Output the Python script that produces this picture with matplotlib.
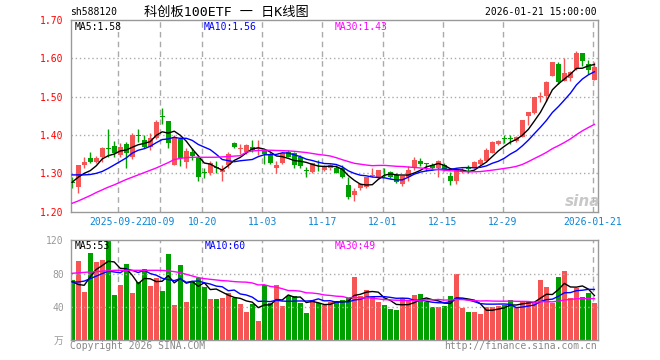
import matplotlib
matplotlib.use('Agg')
import matplotlib.pyplot as plt
import numpy as np
import pandas as pd

plt.rcParams['font.family'] = ['DejaVu Sans Mono', 'Noto Sans CJK SC']

# ---------------- data ----------------
tick_labels = ['2025-09-22', '10-09', '10-20', '11-03', '11-17', '12-01', '12-15', '12-29', '2026-01-21']
tick_index = [8, 15, 22, 32, 42, 52, 62, 72, 87]

opens = [1.277, 1.265, 1.323, 1.341, 1.330, 1.343, 1.366, 1.372, 1.348, 1.377,
         1.343, 1.399, 1.387, 1.370, 1.391, 1.449, 1.437, 1.322, 1.389, 1.330,
         1.357, 1.339, 1.303, 1.300, 1.316, 1.304, 1.322, 1.380, 1.363, 1.355,
         1.370, 1.363, 1.358, 1.350, 1.315, 1.328, 1.355, 1.352, 1.343, 1.308,
         1.304, 1.322, 1.310, 1.313, 1.315, 1.315, 1.270, 1.244, 1.262, 1.265,
         1.292, 1.287, 1.309, 1.304, 1.296, 1.272, 1.291, 1.313, 1.333, 1.325,
         1.322, 1.315, 1.322, 1.293, 1.281, 1.304, 1.314, 1.316, 1.324, 1.333,
         1.354, 1.377, 1.391, 1.391, 1.385, 1.396, 1.450, 1.458, 1.499, 1.503,
         1.554, 1.585, 1.541, 1.548, 1.571, 1.613, 1.584, 1.544]
highs = [1.290, 1.322, 1.343, 1.355, 1.345, 1.368, 1.415, 1.384, 1.378, 1.383,
         1.404, 1.417, 1.400, 1.405, 1.440, 1.471, 1.437, 1.400, 1.395, 1.365,
         1.366, 1.347, 1.315, 1.331, 1.331, 1.322, 1.355, 1.383, 1.376, 1.376,
         1.387, 1.387, 1.360, 1.357, 1.331, 1.357, 1.360, 1.355, 1.347, 1.317,
         1.328, 1.335, 1.322, 1.325, 1.322, 1.322, 1.291, 1.262, 1.274, 1.291,
         1.313, 1.310, 1.313, 1.306, 1.300, 1.293, 1.319, 1.342, 1.339, 1.327,
         1.326, 1.335, 1.328, 1.304, 1.310, 1.313, 1.322, 1.333, 1.339, 1.365,
         1.385, 1.387, 1.400, 1.400, 1.398, 1.439, 1.461, 1.498, 1.513, 1.541,
         1.591, 1.591, 1.602, 1.568, 1.618, 1.613, 1.596, 1.590]
lows = [1.262, 1.250, 1.315, 1.327, 1.327, 1.330, 1.342, 1.343, 1.343, 1.315,
        1.338, 1.382, 1.365, 1.360, 1.389, 1.430, 1.365, 1.322, 1.319, 1.315,
        1.335, 1.280, 1.288, 1.296, 1.302, 1.281, 1.315, 1.366, 1.350, 1.350,
        1.357, 1.348, 1.325, 1.324, 1.300, 1.324, 1.343, 1.313, 1.315, 1.291,
        1.302, 1.307, 1.306, 1.310, 1.300, 1.287, 1.232, 1.229, 1.257, 1.263,
        1.290, 1.285, 1.290, 1.287, 1.274, 1.267, 1.279, 1.309, 1.319, 1.305,
        1.310, 1.290, 1.305, 1.270, 1.272, 1.300, 1.302, 1.313, 1.322, 1.330,
        1.352, 1.375, 1.378, 1.377, 1.383, 1.395, 1.425, 1.456, 1.487, 1.490,
        1.553, 1.533, 1.540, 1.540, 1.570, 1.580, 1.560, 1.544]
closes = [1.275, 1.322, 1.330, 1.330, 1.341, 1.365, 1.364, 1.352, 1.370, 1.354,
          1.400, 1.397, 1.370, 1.393, 1.435, 1.447, 1.380, 1.395, 1.340, 1.358,
          1.345, 1.291, 1.301, 1.326, 1.315, 1.310, 1.350, 1.368, 1.365, 1.374,
          1.361, 1.366, 1.350, 1.328, 1.322, 1.352, 1.343, 1.322, 1.319, 1.307,
          1.326, 1.321, 1.317, 1.322, 1.302, 1.291, 1.239, 1.255, 1.272, 1.291,
          1.295, 1.309, 1.308, 1.290, 1.278, 1.293, 1.309, 1.335, 1.324, 1.324,
          1.313, 1.333, 1.310, 1.281, 1.310, 1.310, 1.312, 1.329, 1.335, 1.361,
          1.383, 1.385, 1.389, 1.389, 1.396, 1.439, 1.461, 1.498, 1.501, 1.539,
          1.591, 1.538, 1.561, 1.565, 1.613, 1.594, 1.570, 1.578]
volumes = [72.4, 95.2, 58.4, 104.8, 94.0, 96.0, 121.0, 54.4, 66.4, 91.6,
           57.0, 70.0, 86.0, 64.6, 74.5, 59.3, 103.8, 42.5, 90.8, 46.4,
           69.6, 74.4, 64.4, 49.6, 49.6, 51.2, 56.4, 50.4, 44.0, 34.4,
           43.6, 23.6, 66.4, 44.4, 66.4, 41.2, 53.6, 53.2, 45.2, 33.2,
           48.4, 45.2, 42.4, 46.4, 47.6, 48.4, 50.4, 76.4, 53.2, 60.4,
           52.4, 46.4, 42.4, 37.6, 36.4, 50.4, 47.2, 54.4, 55.6, 46.4,
           40.0, 40.0, 41.2, 53.2, 79.6, 39.2, 34.4, 34.4, 31.6, 40.4,
           39.6, 41.2, 42.0, 48.5, 40.5, 46.5, 46.5, 46.5, 72.5, 64.2,
           45.0, 76.2, 83.4, 51.2, 63.2, 52.2, 57.0, 45.0]

# moving-average values for days whose window starts before the first candle
ma5_head = [1.277, 1.290, 1.300, 1.307]
ma10_head = [1.296, 1.296, 1.296, 1.297, 1.300, 1.305, 1.313, 1.322, 1.331]
ma30_head = [1.222, 1.228, 1.235, 1.242, 1.250, 1.257, 1.264, 1.270, 1.277, 1.284,
             1.290, 1.296, 1.302, 1.308, 1.314, 1.321, 1.328, 1.336, 1.339, 1.341,
             1.342, 1.342, 1.342, 1.342, 1.342, 1.343, 1.344, 1.345, 1.346]
vma5_head = [70.5, 67.0, 66.0, 76.0]
vma10_head = [70.0, 70.0, 71.0, 74.0, 77.0, 80.0, 83.0, 82.0, 81.0]
vma30_head = [80.4, 81.0, 81.5, 82.0, 82.5, 83.0, 83.5, 84.0, 84.0, 84.0,
              84.0, 84.0, 84.0, 84.0, 84.0, 83.8, 83.4, 82.4, 81.2, 79.2,
              77.2, 75.2, 74.0, 73.2, 72.4, 71.6, 71.2, 70.4, 70.0]

price_legend = ['MA5:1.58', 'MA10:1.56', 'MA30:1.43']
vol_legend = ['MA5:53', 'MA10:60', 'MA30:49']

RED = '#f55555'
GREEN = '#00a000'
MA_COLORS = ['#000000', '#0000ff', '#ff00ff']
GRID = '#aaaaaa'
SPINE = '#999999'
FS = 7


def moving_average(values, n, head):
    s = pd.Series(values, dtype=float).rolling(n).mean().to_numpy()
    s[:len(head)] = head
    return s


O = np.array(opens); H = np.array(highs); L = np.array(lows); C = np.array(closes)
V = np.array(volumes)
n = len(C)
x = np.arange(n)
up = C >= O
cols = np.where(up, RED, GREEN)

ma_p = [moving_average(C, 5, ma5_head), moving_average(C, 10, ma10_head), moving_average(C, 30, ma30_head)]
ma_v = [moving_average(V, 5, vma5_head), moving_average(V, 10, vma10_head), moving_average(V, 30, vma30_head)]

W, Hh = 660, 360
fig = plt.figure(figsize=(6.6, 3.6), dpi=100)
fig.patch.set_facecolor('white')
L0, R0 = 70.7, 597.7
ax = fig.add_axes([L0 / W, 1 - 211.7 / Hh, (R0 - L0) / W, (211.7 - 20.0) / Hh])
axv = fig.add_axes([L0 / W, 1 - 340.3 / Hh, (R0 - L0) / W, (340.3 - 240.3) / Hh])

xlim = (-0.25, n - 0.45)
grid_x = [i - 0.3 for i in tick_index]

for a in (ax, axv):
    a.set_xlim(*xlim)
    for gx in grid_x:
        a.axvline(gx, color=GRID, lw=1, ls=(0, (4, 3)), zorder=0)
    for sp in a.spines.values():
        sp.set_color(SPINE)
        sp.set_linewidth(1)

# candles
ax.vlines(x, L, H, colors=cols, lw=1, zorder=2)
body_h = np.maximum(np.abs(C - O), 0.0018)
ax.bar(x, body_h, bottom=np.minimum(O, C), width=0.8, color=cols, lw=0, zorder=3)
for m, c in zip(ma_p, MA_COLORS):
    ax.plot(x, m, color=c, lw=1, zorder=4)

ax.set_ylim(1.20, 1.70)
for yv in [1.3, 1.4, 1.5, 1.6]:
    ax.axhline(yv, color=GRID, lw=1, ls=(0, (1, 2)), zorder=0)
yt = [1.2, 1.3, 1.4, 1.5, 1.6, 1.7]
ax.set_yticks(yt)
ax.set_yticklabels(['%.2f' % v for v in yt])
ax.tick_params(axis='y', length=0, pad=5, labelcolor='red', labelsize=FS)
ax.set_xticks(grid_x)
ax.set_xticklabels(tick_labels)
ax.tick_params(axis='x', length=0, pad=4, labelcolor='#0a86d6', labelsize=FS)

# volume
axv.bar(x, V, width=0.8, color=cols, lw=0, zorder=2)
for m, c in zip(ma_v, MA_COLORS):
    axv.plot(x, m, color=c, lw=1, zorder=4)
axv.set_ylim(0, 120)
for yv in [40, 80]:
    axv.axhline(yv, color=GRID, lw=1, ls=(0, (1, 2)), zorder=3)
axv.set_yticks([0, 40, 80, 120])
axv.set_yticklabels(['万', '40', '80', '120'])
axv.tick_params(axis='y', length=0, pad=5, labelcolor='#999999', labelsize=FS)
axv.set_xticks([])


def ftext(px, py, s, **kw):
    fig.text(px / W, 1 - py / Hh, s, va='center', **kw)


ftext(70, 12, 'sh588120', ha='left', fontsize=FS, color='black')
ftext(226, 12, '科创板100ETF 一 日K线图', ha='center', fontsize=9.5, color='black')
ftext(597, 12, '2026-01-21 15:00:00', ha='right', fontsize=FS, color='black')

for px, s, c in zip([75, 204, 335], price_legend, MA_COLORS):
    ftext(px, 27, s, ha='left', fontsize=FS, color=c)
for px, s, c in zip([75, 205, 335], vol_legend, MA_COLORS):
    ftext(px, 246, s, ha='left', fontsize=FS, color=c)

ftext(70, 346, 'Copyright 2026 SINA.COM', ha='left', fontsize=FS, color='#888888')
ftext(597, 346, 'http://finance.sina.com.cn', ha='right', fontsize=FS, color='#888888')
ftext(583, 201, 'sina', ha='center', fontsize=11, color='#bbbbbb', style='italic',
      fontweight='bold', family='DejaVu Sans', alpha=0.8)

fig.savefig('out.png', dpi=100)
